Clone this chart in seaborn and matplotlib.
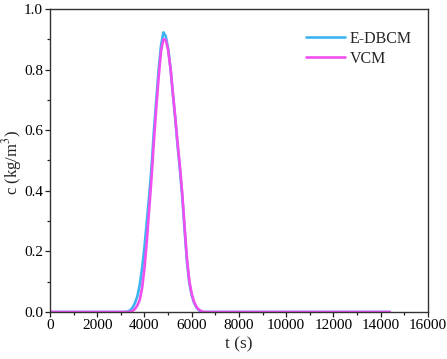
import matplotlib
matplotlib.use('Agg')
import matplotlib.pyplot as plt
import seaborn as sns
import pandas as pd
from matplotlib.ticker import MultipleLocator, FormatStrFormatter

# values (t in s, c in kg/m^3)
t_edbcm = [0, 3200, 3300, 3400, 3500, 3600, 3700, 3800, 3900, 4000, 4100, 4200, 4300,
           4400, 4500, 4600, 4700, 4800, 4900, 5000, 5100, 5200, 5300, 5400, 5500,
           5600, 5700, 5800, 5900, 6000, 6100, 6200, 6300, 6400, 6500, 14400]
c_edbcm = [0.0, 0.0, 0.002, 0.006, 0.015, 0.030, 0.052, 0.090, 0.145, 0.215, 0.300, 0.385,
           0.480, 0.600, 0.700, 0.800, 0.880, 0.923, 0.910, 0.870, 0.805, 0.720, 0.640,
           0.550, 0.470, 0.380, 0.270, 0.165, 0.095, 0.055, 0.030, 0.015, 0.006, 0.002,
           0.0, 0.0]

t_vcm = [0, 3300, 3400, 3500, 3600, 3700, 3800, 3900, 4000, 4100, 4200, 4300, 4400,
         4500, 4600, 4700, 4800, 4900, 5000, 5100, 5200, 5300, 5400, 5500, 5600, 5700,
         5800, 5900, 6000, 6100, 6200, 6300, 6400, 6500, 14400]
c_vcm = [0.0, 0.0, 0.001, 0.004, 0.010, 0.022, 0.040, 0.080, 0.145, 0.235, 0.340, 0.445,
         0.565, 0.675, 0.775, 0.860, 0.900, 0.898, 0.865, 0.805, 0.725, 0.645, 0.560,
         0.480, 0.390, 0.280, 0.175, 0.102, 0.060, 0.033, 0.017, 0.008, 0.003, 0.0, 0.0]

series_names = ['E-DBCM', 'VCM']
series_colors = ['#3cb4f2', '#f04ff0']

df = pd.concat([
    pd.DataFrame({'t': t_edbcm, 'c': c_edbcm, 'model': 'E-DBCM'}),
    pd.DataFrame({'t': t_vcm, 'c': c_vcm, 'model': 'VCM'}),
], ignore_index=True)

sns.set_style('ticks')
plt.rcParams['font.family'] = ['Liberation Serif', 'DejaVu Serif']
plt.rcParams['mathtext.fontset'] = 'stix'

fig = plt.figure(figsize=(4.47, 3.59), dpi=100)
ax = fig.add_axes([0.112, 0.131, 0.845, 0.844])

sns.lineplot(data=df, x='t', y='c', hue='model', hue_order=series_names,
             palette=series_colors, linewidth=1.9, ax=ax, sort=False)

ax.set_xlim(0, 16000)
ax.set_ylim(0, 1.0)
ax.xaxis.set_major_locator(MultipleLocator(2000))
ax.xaxis.set_minor_locator(MultipleLocator(1000))
ax.yaxis.set_major_locator(MultipleLocator(0.2))
ax.yaxis.set_minor_locator(MultipleLocator(0.1))
ax.yaxis.set_major_formatter(FormatStrFormatter('%.1f'))
ax.tick_params(which='major', direction='out', length=3.5, width=0.9, pad=1.5,
               labelsize=11, color='#222222', labelcolor='black')
ax.tick_params(which='minor', direction='out', length=2.2, width=0.9, color='#222222')
for s in ax.spines.values():
    s.set_color('#333333')
    s.set_linewidth(1.0)

ax.set_xlabel('t (s)', fontsize=12.5, labelpad=3)
ax.set_ylabel('c (kg/m$^3$)', fontsize=12)
ax.yaxis.set_label_coords(-0.068, 0.493)

leg = ax.legend(frameon=False, loc='upper right', bbox_to_anchor=(0.995, 0.975),
                fontsize=11.5, handlelength=2.4, handletextpad=0.3, labelspacing=0.25)
for line in leg.get_lines():
    line.set_linewidth(1.9)

fig.savefig('out.png', dpi=100)
